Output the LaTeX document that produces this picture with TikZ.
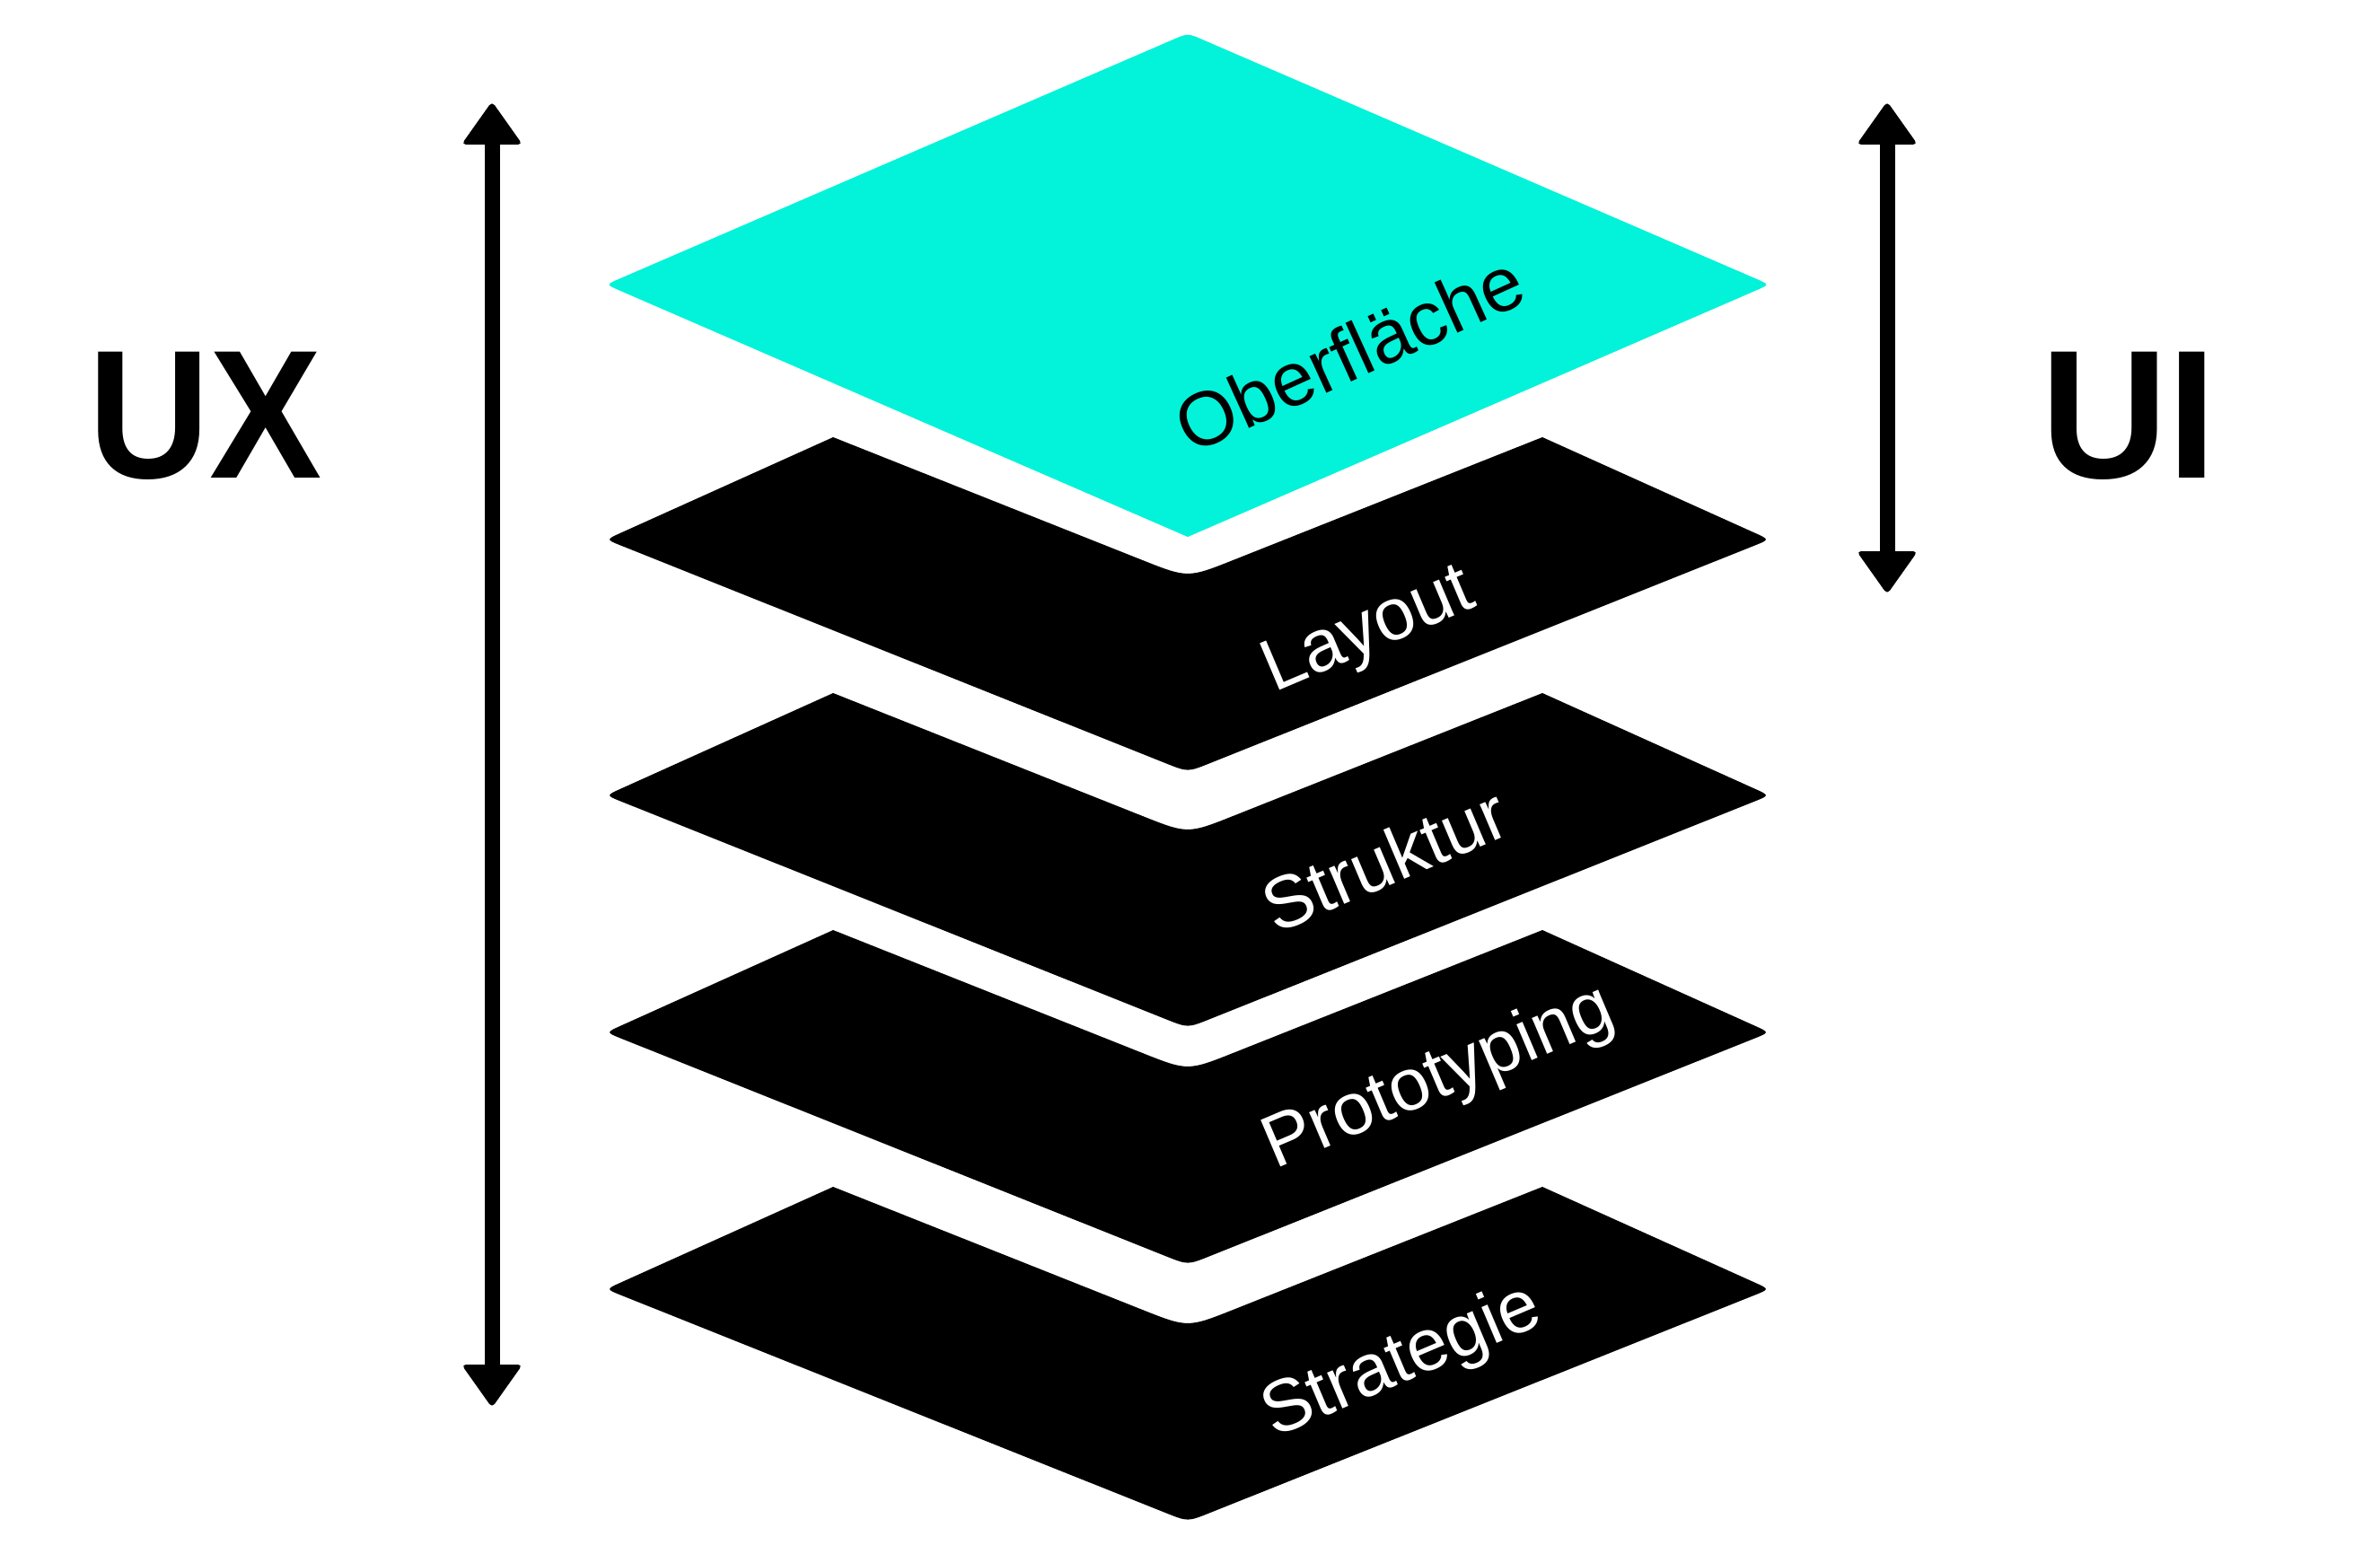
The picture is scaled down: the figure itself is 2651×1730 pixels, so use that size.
\documentclass[tikz,border=0pt]{standalone}
\usepackage{fontspec}
\setmainfont{Liberation Sans}
\usetikzlibrary{calc}
\definecolor{layercyan}{RGB}{2,243,217}
\newcommand\mylayer[2]{%
\begin{scope}[shift={(0,#1)}]
 \coordinate (L) at (675,114);
 \coordinate (TL) at (928,0);
 \coordinate (V) at (1323,157);
 \coordinate (TR) at (1718,0);
 \coordinate (R) at (1971,114);
 \coordinate (B) at (1323,373);
 \fill[#2] (TL) -- ($(V)!55pt!(TL)$) .. controls (V) .. ($(V)!55pt!(TR)$) -- (TR)
   -- ($(R)!18pt!(TR)$) .. controls (R) .. ($(R)!18pt!(B)$)
   -- ($(B)!26pt!(R)$) .. controls (B) .. ($(B)!26pt!(L)$)
   -- ($(L)!18pt!(B)$) .. controls (L) .. ($(L)!18pt!(TL)$) -- cycle;
\end{scope}}
\begin{document}
\begin{tikzpicture}[x=1pt,y=-1pt,
  layertext/.style={font=\fontsize{82}{82}\selectfont, rotate=23, inner sep=0pt, text=white},
  bigtext/.style={font=\fontsize{204}{204}\selectfont\bfseries, inner sep=0pt, anchor=base west},
  shaft/.style={line width=17pt, black},
  head/.style={fill=black, rounded corners=5pt}]
\useasboundingbox (0,0) rectangle (2651,1730);
\fill[white] (0,0) rectangle (2651,1730);
% top cyan layer
\coordinate (CT) at (1323,37);
\coordinate (CL) at (675,317);
\coordinate (CR) at (1971,317);
\coordinate (CB) at (1323,598);
\fill[layercyan] (CB) -- ($(CL)!16pt!(CB)$) .. controls (CL) .. ($(CL)!16pt!(CT)$)
  -- ($(CT)!18pt!(CL)$) .. controls (CT) .. ($(CT)!18pt!(CR)$)
  -- ($(CR)!16pt!(CT)$) .. controls (CR) .. ($(CR)!16pt!(CB)$) -- cycle;
% black layers
\mylayer{487}{black}
\mylayer{772}{black}
\mylayer{1036}{black}
\mylayer{1322}{black}
% labels
\node[layertext, text=black, rotate=1.5, font=\fontsize{85}{85}\selectfont] (t1) at (1503,393) {Oberfläche};
\node[layertext] (t2) at (1525,705) {Layout};
\node[layertext] (t3) at (1542,957) {Struktur};
\node[layertext] (t4) at (1603,1202) {Prototyping};
\node[layertext] (t5) at (1562,1518) {Strategie};
\node[bigtext] (ux) at (98,532) {\scalebox{0.92}[1]{UX}};
\node[bigtext] (ui) at (2273,532) {\scalebox{0.96}[1]{UI}};
% arrows
\coordinate (uxtop) at (548,113);
\coordinate (uxbot) at (548,1568);
\coordinate (uitop) at (2102,113);
\coordinate (uibot) at (2102,662);
\draw[shaft] ($(uxtop)+(0,40)$) -- ($(uxbot)+(0,-40)$);
\fill[head] (uxtop) -- ++(-34,48) -- ++(68,0) -- cycle;
\fill[head] (uxbot) -- ++(-34,-48) -- ++(68,0) -- cycle;
\draw[shaft] ($(uitop)+(0,40)$) -- ($(uibot)+(0,-40)$);
\fill[head] (uitop) -- ++(-34,48) -- ++(68,0) -- cycle;
\fill[head] (uibot) -- ++(-34,-48) -- ++(68,0) -- cycle;
\end{tikzpicture}
\end{document}
